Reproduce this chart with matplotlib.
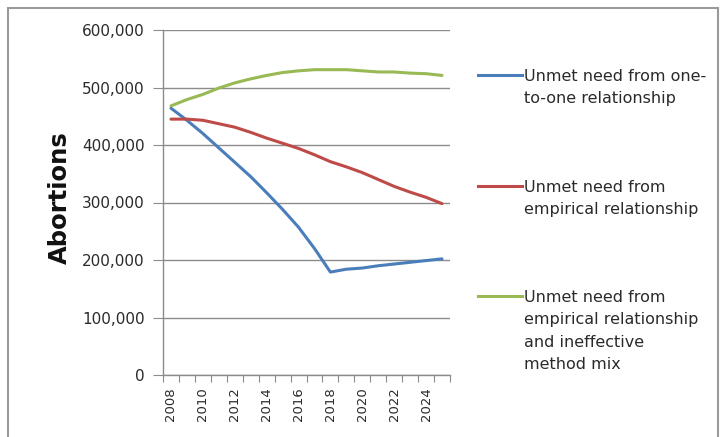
import matplotlib
matplotlib.use("Agg")
import matplotlib.pyplot as plt
from matplotlib.lines import Line2D
from matplotlib.patches import Rectangle
from matplotlib.ticker import FuncFormatter, FixedLocator

years = list(range(2008, 2026))
one_to_one = [464000, 443000, 420000, 395000, 370000, 345000, 317000, 288000, 257000, 220000,
              179000, 184000, 186000, 190000, 193000, 196000, 199000, 202000]
empirical = [445000, 445000, 443000, 437000, 431000, 422000, 412000, 403000, 394000, 383000,
             371000, 362000, 352000, 340000, 328000, 318000, 309000, 298000]
empirical_mix = [468000, 479000, 488000, 499000, 508000, 515000, 521000, 526000, 529000, 531000,
                 531000, 531000, 529000, 527000, 527000, 525000, 524000, 521000]
series_labels = ["Unmet need from one-\nto-one relationship",
                 "Unmet need from\nempirical relationship",
                 "Unmet need from\nempirical relationship\nand ineffective\nmethod mix"]
colors = ["#4A7EBB", "#BE4B48", "#98B954"]
yticks = [0, 100000, 200000, 300000, 400000, 500000, 600000]

W, H = 724, 437
fig = plt.figure(figsize=(W / 100, H / 100), dpi=100)
fig.patch.set_facecolor("white")
font = "DejaVu Sans"
txt = "#2a2a2a"

# outer frame
fig.add_artist(Rectangle((8 / W, -0.05), (718 - 8) / W, (H - 8) / H + 0.05,
                         transform=fig.transFigure, fill=False, edgecolor="#9a9a9a", linewidth=1.5))

ax = fig.add_axes([163 / W, (H - 375) / H, (450 - 163) / W, (375 - 30) / H])
x = [i + 0.5 for i in range(len(years))]
for vals, c in zip([one_to_one, empirical, empirical_mix], colors):
    ax.plot(x, vals, color=c, linewidth=2.2, solid_capstyle="round", zorder=3)

ax.set_xlim(0, len(years))
ax.set_ylim(0, 600000)
ax.yaxis.set_major_locator(FixedLocator(yticks))
ax.yaxis.set_major_formatter(FuncFormatter(lambda v, p: f"{int(v):,}"))
ax.grid(axis="y", color="#8c8c8c", linewidth=1.0)
ax.set_axisbelow(True)
for s in ["top", "right"]:
    ax.spines[s].set_visible(False)
for s in ["left", "bottom"]:
    ax.spines[s].set_color("#8c8c8c")
    ax.spines[s].set_linewidth(1.0)

ax.set_xticks(range(len(years) + 1))
ax.set_xticklabels([])
ax.set_xticks([x[i] for i in range(0, len(years), 2)], minor=True)
ax.set_xticklabels([str(years[i]) for i in range(0, len(years), 2)], minor=True,
                   rotation=90, fontsize=9.5, fontfamily=font, color=txt)
ax.tick_params(axis="x", which="major", length=5, color="#8c8c8c", direction="out")
ax.tick_params(axis="x", which="minor", length=0, pad=9)
ax.tick_params(axis="y", length=7, color="#8c8c8c", labelsize=11, labelcolor=txt, pad=6)
for lab in ax.get_yticklabels():
    lab.set_fontfamily(font)

fig.text(60 / W, 1 - 198 / H, "Abortions", rotation=90, fontsize=17.5, fontweight="bold",
         fontfamily=font, ha="center", va="center", color="#111111")

# legend
leg_y = [75, 186, 296]
for lbl, c, yy in zip(series_labels, colors, leg_y):
    fig.add_artist(Line2D([478 / W, 522 / W], [1 - yy / H, 1 - yy / H], color=c, linewidth=2.2,
                          transform=fig.transFigure))
    fig.text(524 / W, 1 - (yy - 6) / H, lbl, fontsize=11.5, fontfamily=font, color=txt,
             ha="left", va="top", linespacing=1.62)

fig.savefig("out.png", dpi=100)
